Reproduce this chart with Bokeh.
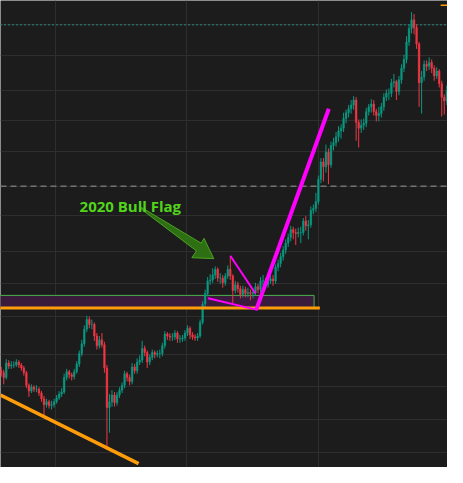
import pandas as pd
from bokeh.plotting import figure
from bokeh.models import Range1d, FixedTicker, ColumnDataSource
from bokeh.core.properties import value
from bokeh.embed import file_html
from bokeh.resources import INLINE

# ---------------- data (weekly candles, price units) ----------------
start_week = "2018-08-03"
first_open = 100
closes = [98, 93, 108, 105, 106, 106, 109, 106, 103, 98,
          85, 79, 83, 81, 81, 77, 71, 65, 68, 64,
          65, 68, 72, 76, 78, 93, 99, 96, 94, 99,
          107, 118, 128, 143, 153, 148, 148, 136, 126, 132,
          127, 103, 62, 68, 75, 67, 75, 80, 85, 97,
          93, 89, 104, 100, 109, 111, 123, 119, 109, 114,
          119, 117, 118, 118, 126, 138, 136, 135, 135, 139,
          133, 133, 134, 139, 144, 137, 135, 134, 136, 150,
          169, 180, 193, 194, 199, 205, 196, 196, 191, 198,
          205, 198, 183, 189, 185, 179, 184, 180, 181, 180,
          181, 187, 184, 193, 193, 189, 193, 195, 193, 207,
          211, 218, 225, 232, 238, 246, 243, 242, 243, 243,
          255, 250, 251, 266, 268, 275, 298, 316, 311, 326,
          313, 333, 336, 342, 348, 351, 361, 367, 371, 375,
          380, 357, 351, 354, 356, 368, 373, 376, 368, 364,
          366, 373, 383, 387, 387, 398, 399, 389, 401, 413,
          422, 440, 454, 463, 455, 438, 398, 404, 417, 415,
          419, 413, 405, 410, 397, 383, 379, 390]
highs = [104, 101, 112, 111, 110, 110, 112, 111, 108, 105,
         100, 87, 86, 85, 85, 83, 79, 74, 71, 70,
         69, 71, 75, 79, 82, 97, 102, 101, 98, 102,
         110, 121, 132, 147, 157, 156, 153, 150, 139, 136,
         139, 130, 106, 76, 80, 78, 78, 83, 88, 100,
         99, 96, 108, 107, 113, 116, 131, 126, 121, 117,
         122, 121, 121, 122, 129, 141, 140, 139, 139, 142,
         141, 137, 137, 142, 147, 146, 140, 138, 139, 153,
         172, 184, 197, 200, 206, 208, 207, 201, 199, 201,
         209, 218, 200, 193, 192, 188, 188, 187, 186, 184,
         185, 191, 190, 197, 199, 196, 196, 199, 199, 210,
         215, 222, 229, 236, 242, 250, 249, 247, 248, 249,
         258, 260, 256, 270, 272, 284, 302, 320, 320, 334,
         330, 337, 341, 347, 353, 355, 367, 370, 375, 380,
         384, 383, 360, 360, 361, 372, 376, 381, 380, 371,
         373, 377, 387, 391, 392, 402, 407, 401, 405, 417,
         427, 446, 458, 471, 469, 458, 440, 410, 421, 421,
         424, 422, 416, 414, 412, 400, 386, 395]
lows = [94, 86, 91, 102, 102, 103, 104, 103, 100, 95,
        82, 73, 77, 78, 78, 74, 68, 53, 62, 61,
        60, 62, 66, 70, 73, 76, 90, 92, 90, 91,
        97, 104, 115, 125, 140, 144, 143, 131, 122, 123,
        124, 98, 18, 36, 63, 63, 64, 72, 77, 82,
        89, 85, 86, 97, 97, 106, 108, 115, 103, 106,
        111, 113, 114, 113, 115, 123, 132, 131, 131, 132,
        129, 129, 130, 131, 136, 133, 132, 131, 131, 134,
        148, 166, 177, 189, 191, 195, 192, 190, 186, 188,
        195, 194, 170, 180, 181, 175, 176, 176, 176, 173,
        175, 178, 180, 181, 188, 185, 186, 190, 188, 190,
        203, 207, 214, 221, 228, 234, 236, 230, 238, 232,
        240, 245, 236, 248, 262, 264, 272, 294, 296, 305,
        293, 310, 328, 332, 337, 340, 347, 356, 362, 366,
        370, 338, 331, 346, 349, 352, 364, 367, 364, 358,
        358, 362, 369, 379, 380, 383, 393, 380, 385, 397,
        409, 418, 436, 449, 448, 433, 373, 366, 400, 410,
        411, 408, 400, 402, 393, 363, 365, 375]

# chart frame and reference levels
x_start, x_end = "2018-08-01", "2021-12-26"
year_lines = ["2019-01-01", "2020-01-01", "2021-01-01"]
grid_levels = [15, 50, 84, 117, 156, 190, 223, 261, 291, 327, 359, 390, 426, 458]
y_min, y_max = 0, 483
dotted_level = 458
dashed_level = 291

# annotations (date, price)
zone_dates = ["2018-07-01", "2020-12-20"]
zone_prices = [165, 178]
support_dates = ["2018-07-01", "2021-01-05"]
support_price = 165
trend_dates = ["2018-08-01", "2019-08-20"]
trend_prices = [75, 4]
flag_low_dates = ["2020-02-29", "2020-07-15"]
flag_low_prices = [175, 163]
flag_high_dates = ["2020-05-01", "2020-07-10"]
flag_high_prices = [219, 180]
pole_dates = ["2020-07-12", "2021-01-30"]
pole_prices = [163, 371]
arrow_dates = ["2019-08-28", "2020-02-10", "2020-02-18", "2020-03-16",
               "2020-01-15", "2020-01-28", "2019-08-28"]
arrow_prices = [269, 232, 237, 216, 217, 224, 267]
label_text = "2020 Bull Flag"
label_date = "2019-07-28"
label_price = 270
corner_dates = ["2021-12-07", "2021-12-30"]
corner_price = 478

UP, DOWN = "#089981", "#f23645"
BG = "#1c1c1c"

# ---------------- build ----------------
dates = pd.date_range(start_week, periods=len(closes), freq="7D")
opens = [first_open] + closes[:-1]
df = pd.DataFrame(dict(date=dates, open=opens, close=closes, high=highs, low=lows))
df["top"] = df[["open", "close"]].max(axis=1)
df["bottom"] = df[["open", "close"]].min(axis=1)
df["color"] = [UP if c >= o else DOWN for o, c in zip(opens, closes)]
src = ColumnDataSource(df)

def ts(s):
    return pd.Timestamp(s)

p = figure(width=447, height=467, x_axis_type="datetime",
           x_range=Range1d(ts(x_start), ts(x_end)),
           y_range=Range1d(y_min, y_max),
           output_backend="svg", toolbar_location=None, min_border=0)
p.background_fill_color = BG
p.border_fill_color = BG
p.outline_line_color = None
p.xaxis.visible = False
p.yaxis.visible = False
p.xgrid.ticker = FixedTicker(ticks=[ts(d).value / 1e6 for d in year_lines])
p.ygrid.ticker = FixedTicker(ticks=grid_levels)
for g in (p.xgrid, p.ygrid):
    g.grid_line_color = "#2e2e2e"
    g.grid_line_width = 1

# level lines
p.segment(x0=[ts(x_start)], x1=[ts(x_end)], y0=[dotted_level], y1=[dotted_level],
          line_color="#26a69a", line_width=1.5, line_dash="1 3")
p.segment(x0=[ts(x_start)], x1=[ts(x_end)], y0=[dashed_level], y1=[dashed_level],
          line_color="#9a9a9a", line_width=1, line_dash="6 4")

# purple zone
p.quad(left=[ts(zone_dates[0])], right=[ts(zone_dates[1])],
       bottom=[zone_prices[0]], top=[zone_prices[1]],
       fill_color="#3a1b3c", fill_alpha=1, line_color="#4caf50", line_width=1)

# candles
p.segment(x0="date", x1="date", y0="low", y1="high", color="color", line_width=1, source=src)
p.vbar(x="date", width=4.5 * 24 * 3600 * 1000, top="top", bottom="bottom",
       fill_color="color", line_color="color", line_width=0.5, source=src)

# orange lines
p.line(x=[ts(d) for d in support_dates], y=[support_price] * 2,
       line_color="#ff9d0a", line_width=3)
p.line(x=[ts(d) for d in trend_dates], y=trend_prices,
       line_color="#ff9d0a", line_width=3.5)
p.line(x=[ts(d) for d in corner_dates], y=[corner_price] * 2,
       line_color="#ff9d0a", line_width=1.5)

# magenta flag
p.line(x=[ts(d) for d in flag_low_dates], y=flag_low_prices, line_color="#ff00ff", line_width=2)
p.line(x=[ts(d) for d in flag_high_dates], y=flag_high_prices, line_color="#ff00ff", line_width=2)
p.line(x=[ts(d) for d in pole_dates], y=pole_prices, line_color="#ff00ff", line_width=4)

# arrow and label
p.patch(x=[ts(d) for d in arrow_dates], y=arrow_prices,
        fill_color="#2f7414", fill_alpha=0.95, line_color="#4aa322", line_width=1)
p.text(x=[ts(label_date)], y=[label_price], text=[label_text],
       text_font=value("Open Sans"), text_font_style="bold", text_font_size="15px",
       text_color="#52d41c", text_align="center", text_baseline="alphabetic")

open("out.html", "w").write(file_html(p, INLINE))
